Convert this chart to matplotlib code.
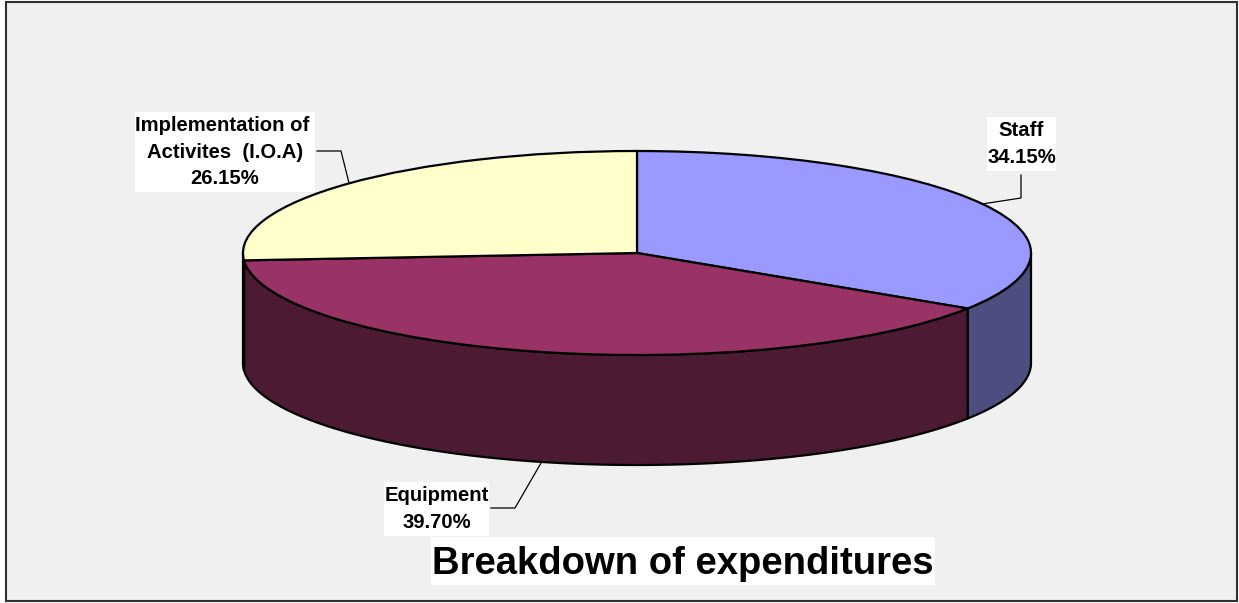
"""Flattened 3D pie of expenditure shares, drawn with ax.pie plus extruded walls."""
import matplotlib
matplotlib.use("Agg")
import matplotlib.pyplot as plt
import numpy as np

# ---------------------------------------------------------------------------
# Data
# ---------------------------------------------------------------------------
categories = ["Staff", "Equipment", "Implementation of \nActivites  (I.O.A)"]
shares = [34.15, 39.70, 26.15]
title = "Breakdown of expenditures"

# ---------------------------------------------------------------------------
# Styling and layout (pixel units of the 1239x603 figure)
# ---------------------------------------------------------------------------
W, H = 1239, 603
TOP_COLORS = ["#9999ff", "#993366", "#ffffcc"]
WALL_COLORS = ["#4d4d80", "#4d1a33", "#808066"]
BACKGROUND = "#f0f0f0"

CX, CY = 637, 253     # ellipse centre
RX, RY = 394, 102     # ellipse radii
DEPTH = 110           # height of the side wall

LABEL_BOXES = [(987, 117, 1056, 171), (384, 482, 489, 536), (135, 112, 315, 192)]
LEADERS = [
    [(1021, 175), (1021, 198), (982, 204)],
    [(491, 508), (515, 508), (541, 463)],
    [(317, 151), (341, 151), (349, 183)],
]

plt.rcParams["font.family"] = ["Liberation Sans", "DejaVu Sans"]

fig = plt.figure(figsize=(W / 100, H / 100), dpi=100, facecolor="white")


def pixel_axes(zorder):
    """Full-figure axes whose data units are image pixels."""
    a = fig.add_axes([0, 0, 1, 1], zorder=zorder)
    a.set_xlim(0, W)
    a.set_ylim(H, 0)
    a.axis("off")
    return a


# Chart frame and background
back = pixel_axes(1)
back.add_patch(plt.Rectangle((6, 2), 1231, 599, facecolor=BACKGROUND,
                             edgecolor="#303030", linewidth=1.5))

# Pie axes: unit circle squashed to the ellipse by non-equal scales
ax = fig.add_axes([0, 0, 1, 1], zorder=2)
ax.patch.set_alpha(0)


def wall_outline(start, end):
    """Outline of the front wall between two clockwise angles from the top."""
    t = np.linspace(start, end, 200)
    x, y = np.sin(t), np.cos(t)
    drop = DEPTH / RY
    return np.r_[x, x[::-1]], np.r_[y, y[::-1] - drop]


fractions = np.cumsum([0] + shares) / sum(shares) * 2 * np.pi
front_lo, front_hi = np.pi / 2, 3 * np.pi / 2
for i in range(len(shares)):
    lo = max(fractions[i], front_lo)
    hi = min(fractions[i + 1], front_hi)
    if hi > lo:
        xs, ys = wall_outline(lo, hi)
        ax.fill(xs, ys, facecolor=WALL_COLORS[i], edgecolor="black", linewidth=1.6,
                joinstyle="round", zorder=1)

ax.pie(shares, colors=TOP_COLORS, startangle=90, counterclock=False, radius=1,
       wedgeprops=dict(edgecolor="black", linewidth=1.6, zorder=2))

# pie() forces an equal aspect; undo it so the circle maps to the ellipse
ax.set_aspect("auto")
ax.set_xlim(-CX / RX, (W - CX) / RX)
ax.set_ylim((CY - H) / RY, CY / RY)
ax.axis("off")

# Labels, leader lines and title on top of the pie
top = pixel_axes(3)
for name, value, box, leader in zip(categories, shares, LABEL_BOXES, LEADERS):
    x0, y0, x1, y1 = box
    top.add_patch(plt.Rectangle((x0, y0), x1 - x0, y1 - y0, facecolor="white",
                                edgecolor="none"))
    top.text((x0 + x1) / 2, (y0 + y1) / 2, f"{name}\n{value:.2f}%", ha="center",
             va="center", fontsize=14.6, fontweight="bold", linespacing=1.5)
    xs, ys = zip(*leader)
    top.plot(xs, ys, color="black", linewidth=0.9)

top.add_patch(plt.Rectangle((431, 537), 504, 48, facecolor="white", edgecolor="none"))
top.text(683, 564, title, ha="center", va="center", fontsize=27.5, fontweight="bold")

fig.savefig("out.png", dpi=100)
